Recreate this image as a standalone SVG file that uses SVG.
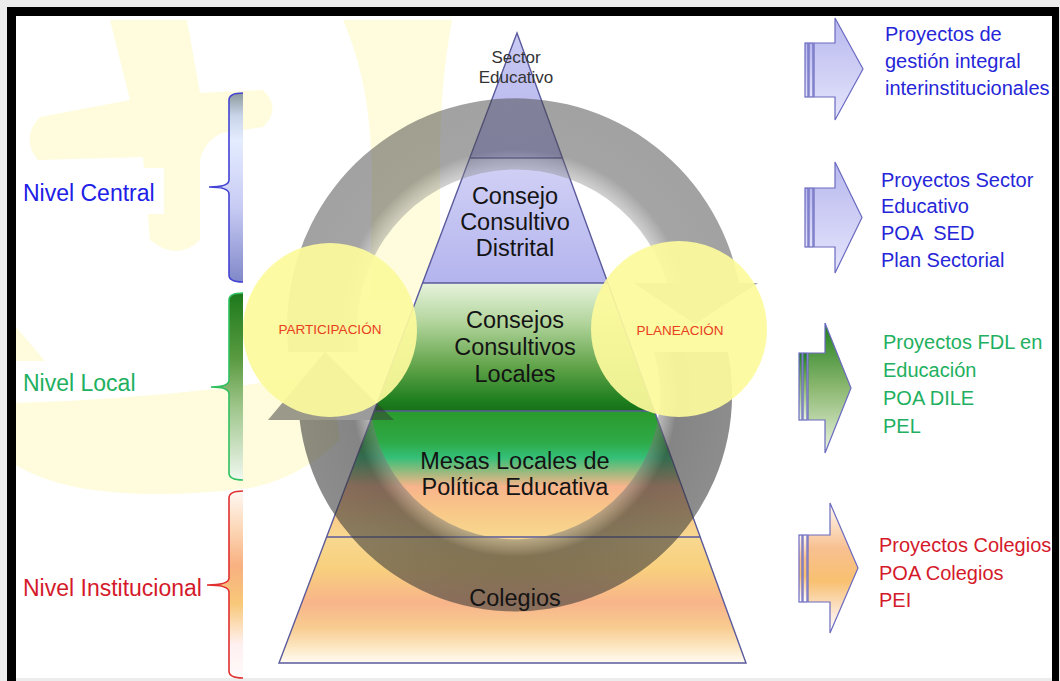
<svg xmlns="http://www.w3.org/2000/svg" width="1060" height="681" viewBox="0 0 1060 681">
<defs>
<style>
.t{font-family:"Liberation Sans",Arial,sans-serif}
.pt{font-size:23.5px;fill:#141414;text-anchor:middle}
.lv{font-size:23px}
.rt{font-size:20px}
.ct{font-size:13.5px;fill:#e8401c;text-anchor:middle}
.sep{stroke:#5a5a9c;stroke-width:1.4;fill:none}
.wm{fill:#fefcdc}
.arr{stroke:#6a6ac0;stroke-width:1.2}
.br{fill:none;stroke-width:1.6}
.circ{fill:#fcfa9c;opacity:0.93}
</style>
<linearGradient id="g1" x1="0" y1="0" x2="0" y2="1"><stop offset="0" stop-color="#cacaf4"/><stop offset="1" stop-color="#b2b2ec"/></linearGradient>
<linearGradient id="g2" x1="0" y1="0" x2="0" y2="1"><stop offset="0" stop-color="#d2d2f6"/><stop offset="1" stop-color="#b4b4ee"/></linearGradient>
<linearGradient id="g3" x1="0" y1="0" x2="0" y2="1"><stop offset="0" stop-color="#e6f3dc"/><stop offset="0.3" stop-color="#b4d69e"/><stop offset="0.65" stop-color="#62a44a"/><stop offset="0.92" stop-color="#1e7e1e"/><stop offset="1" stop-color="#187018"/></linearGradient>
<linearGradient id="g4" x1="0" y1="0" x2="0" y2="1"><stop offset="0" stop-color="#2a9a2c"/><stop offset="0.25" stop-color="#2eaa48"/><stop offset="0.37" stop-color="#34c078"/><stop offset="0.52" stop-color="#b8b880"/><stop offset="0.6" stop-color="#f8b48c"/><stop offset="0.8" stop-color="#f8c888"/><stop offset="1" stop-color="#f8d890"/></linearGradient>
<linearGradient id="g5" x1="0" y1="0" x2="0" y2="1"><stop offset="0" stop-color="#f8d890"/><stop offset="0.25" stop-color="#f8d07e"/><stop offset="0.52" stop-color="#f8b48a"/><stop offset="0.72" stop-color="#f8cc90"/><stop offset="0.88" stop-color="#fce8c4"/><stop offset="1" stop-color="#fffcf4"/></linearGradient>
<radialGradient id="ringTop" gradientUnits="userSpaceOnUse" cx="515" cy="325" r="228"><stop offset="0.69" stop-color="#8a8a8a" stop-opacity="0.42"/><stop offset="0.77" stop-color="#4a4a4a" stop-opacity="0.5"/><stop offset="1" stop-color="#444444" stop-opacity="0.5"/></radialGradient>
<radialGradient id="ringBot" gradientUnits="userSpaceOnUse" cx="515" cy="394" r="217"><stop offset="0.668" stop-color="#7a7a7a" stop-opacity="0.5"/><stop offset="0.75" stop-color="#333333" stop-opacity="0.6"/><stop offset="1" stop-color="#3a3a3a" stop-opacity="0.58"/></radialGradient>
<linearGradient id="bBlue" x1="0" y1="0" x2="0" y2="1"><stop offset="0" stop-color="#8c9a9c"/><stop offset="0.12" stop-color="#c8d4e8"/><stop offset="0.25" stop-color="#e4ecff"/><stop offset="0.6" stop-color="#c8ccf4"/><stop offset="1" stop-color="#8088c8"/></linearGradient>
<linearGradient id="bGreen" x1="0" y1="0" x2="0" y2="1"><stop offset="0" stop-color="#1c7a1c"/><stop offset="0.35" stop-color="#5a9a40"/><stop offset="0.6" stop-color="#9cc488"/><stop offset="1" stop-color="#f0f8f0"/></linearGradient>
<linearGradient id="bRed" x1="0" y1="0" x2="0" y2="1"><stop offset="0" stop-color="#fff8f4"/><stop offset="0.2" stop-color="#fcd8b8"/><stop offset="0.4" stop-color="#f8b080"/><stop offset="0.6" stop-color="#f8c878"/><stop offset="0.82" stop-color="#fff0f0"/><stop offset="1" stop-color="#fffafa"/></linearGradient>
<linearGradient id="aBlue" x1="0" y1="0" x2="0" y2="1"><stop offset="0" stop-color="#b8b8ee"/><stop offset="1" stop-color="#e4e4fc"/></linearGradient>
<linearGradient id="aGreen" x1="0" y1="0" x2="0" y2="1"><stop offset="0" stop-color="#1e7e1e"/><stop offset="0.5" stop-color="#8cb870"/><stop offset="1" stop-color="#eaf4e2"/></linearGradient>
<linearGradient id="aOrange" x1="0" y1="0" x2="0" y2="1"><stop offset="0" stop-color="#fffaf4"/><stop offset="0.35" stop-color="#f8c090"/><stop offset="0.6" stop-color="#f8c070"/><stop offset="0.85" stop-color="#fce8d8"/><stop offset="1" stop-color="#ffffff"/></linearGradient>
</defs>

<g id="frame">
<rect x="0" y="0" width="1060" height="681" fill="#ececec"/>
<rect x="16" y="16" width="1036" height="662" fill="#ffffff"/>
<rect x="7" y="7" width="1052" height="9" fill="#000"/>
<rect x="7" y="7" width="9" height="674" fill="#000"/>
<rect x="1052" y="7" width="7" height="674" fill="#000"/>
</g>

<g id="watermark">
<path class="wm" d="M110,20 L187,20 L200,93 L263,90 Q282,108 263,127 L222,133 Q205,140 200,160 L200,240 Q177,262 150,240 L143,157 L38,160 Q20,138 40,117 L130,100 Z"/>
<path class="wm" d="M343,20 L452,20 C445,60 440,100 440,170 L440,300 L370,300 L372,170 C370,100 360,60 343,20 Z"/>
<path class="wm" d="M16,327 L45,361 L16,361 Z"/>
<path class="wm" d="M16,403 Q120,400 233,387 L330,372 L340,440 Q300,478 250,488 Q150,500 80,488 Q40,480 16,465 Z"/>
<rect x="16" y="168" width="148" height="46" fill="#ffffff"/>
</g>

<g id="pyramid">
<g id="layer-sector"><polygon points="517,33 562.4,158 469.8,158" fill="url(#g1)"/></g>
<g id="layer-distrital"><polygon points="469.8,158 562.4,158 607.9,283 422.6,283" fill="url(#g2)"/></g>
<g id="layer-locales"><polygon points="422.6,283 607.9,283 654.4,411 374.2,411" fill="url(#g3)"/></g>
<g id="layer-mesas"><polygon points="374.2,411 654.4,411 700.2,537 326.6,537" fill="url(#g4)"/></g>
<g id="layer-colegios"><polygon points="326.6,537 700.2,537 746,663 279,663" fill="url(#g5)"/></g>
<polygon class="sep" points="517,33 746,663 279,663"/>
<line class="sep" x1="469.8" y1="158" x2="562.4" y2="158"/>
<line class="sep" x1="422.6" y1="283" x2="607.9" y2="283"/>
<line class="sep" x1="374.2" y1="411" x2="654.4" y2="411"/>
<line class="sep" x1="326.6" y1="537" x2="700.2" y2="537"/>
</g>

<g id="connectors">
<path d="M288.6,352 A228,228 0 0 1 739,283 L667,283 A158,158 0 0 0 359.3,352 Z" fill="url(#ringTop)"/>
<polygon points="634,283 758,283 695,324" fill="#3c3c3c" fill-opacity="0.45"/>
<path d="M727.9,352 A217,217 0 1 1 299.6,420 L372.4,420 A145,145 0 1 0 653.8,352 Z" fill="url(#ringBot)"/>
<polygon points="268,420 394,420 325,352" fill="#383838" fill-opacity="0.5"/>
</g>

<g id="participacion"><circle class="circ" cx="330" cy="330" r="87"/><text class="t ct" x="330" y="334">PARTICIPACIÓN</text></g>
<g id="planeacion"><circle class="circ" cx="679" cy="329" r="88"/><text class="t ct" x="680" y="335">PLANEACIÓN</text></g>

<g id="pyramid-labels">
<text class="t" x="516" y="63" font-size="17" fill="#333" text-anchor="middle">Sector</text>
<text class="t" x="516" y="83" font-size="17" fill="#333" text-anchor="middle">Educativo</text>
<text class="t pt" x="515" y="204">Consejo</text>
<text class="t pt" x="515" y="230">Consultivo</text>
<text class="t pt" x="515" y="256">Distrital</text>
<text class="t pt" x="515" y="328">Consejos</text>
<text class="t pt" x="515" y="355">Consultivos</text>
<text class="t pt" x="515" y="382">Locales</text>
<text class="t pt" x="515" y="469" font-size="22.5">Mesas Locales de</text>
<text class="t pt" x="515" y="495" font-size="22.5">Política Educativa</text>
<text class="t pt" x="515" y="606">Colegios</text>
</g>

<g id="nivel-central">
<path d="M243,93 Q229,93 229,100 L229,180 Q229,187 209,187 Q229,187 229,194 L229,275 Q229,282 243,282 Z" fill="url(#bBlue)"/>
<path class="br" stroke="#4444d4" d="M243,93 Q229,93 229,100 L229,180 Q229,187 209,187 Q229,187 229,194 L229,275 Q229,282 243,282"/>
<text class="t lv" x="23" y="201" fill="#2020e6">Nivel Central</text>
</g>
<g id="nivel-local">
<path d="M243,293 Q229,293 229,300 L229,380 Q229,387 211,387 Q229,387 229,394 L229,473 Q229,480 243,480 Z" fill="url(#bGreen)"/>
<path class="br" stroke="#30c060" d="M243,293 Q229,293 229,300 L229,380 Q229,387 211,387 Q229,387 229,394 L229,473 Q229,480 243,480"/>
<text class="t lv" x="23" y="391" fill="#22b060">Nivel Local</text>
</g>
<g id="nivel-institucional">
<path d="M243,491 Q229,491 229,498 L229,578 Q229,585 207,585 Q229,585 229,592 L229,671 Q229,678 243,678 Z" fill="url(#bRed)"/>
<path class="br" stroke="#e03030" d="M243,491 Q229,491 229,498 L229,578 Q229,585 207,585 Q229,585 229,592 L229,671 Q229,678 243,678"/>
<text class="t lv" x="23" y="596" fill="#d41a2a">Nivel Institucional</text>
</g>

<g id="arrow-gestion">
<rect class="arr" x="805" y="43" width="3" height="54" fill="url(#aBlue)"/>
<rect class="arr" x="809" y="43" width="4" height="54" fill="url(#aBlue)"/>
<polygon class="arr" points="814,43 835,43 835,18 863,69 835,120 835,97 814,97" fill="url(#aBlue)"/>
<text class="t rt" fill="#2626d8"><tspan x="885" y="41">Proyectos de</tspan><tspan x="885" y="68">gestión integral</tspan><tspan x="885" y="95">interinstitucionales</tspan></text>
</g>
<g id="arrow-sector">
<rect class="arr" x="805" y="188" width="3" height="59" fill="url(#aBlue)"/>
<rect class="arr" x="809" y="188" width="4" height="59" fill="url(#aBlue)"/>
<polygon class="arr" points="814,188 835,188 835,162 862,217.5 835,273 835,247 814,247" fill="url(#aBlue)"/>
<text class="t rt" fill="#2626d8"><tspan x="881" y="187">Proyectos Sector</tspan><tspan x="881" y="213">Educativo</tspan><tspan x="881" y="240" xml:space="preserve">POA  SED</tspan><tspan x="881" y="267">Plan Sectorial</tspan></text>
</g>
<g id="arrow-fdl">
<rect class="arr" x="799" y="353" width="3" height="67" fill="url(#aGreen)"/>
<rect class="arr" x="803" y="353" width="4" height="67" fill="url(#aGreen)"/>
<polygon class="arr" points="808,353 825,353 825,323 851,388 825,453 825,420 808,420" fill="url(#aGreen)"/>
<text class="t rt" fill="#22b060"><tspan x="883" y="349">Proyectos FDL en</tspan><tspan x="883" y="377">Educación</tspan><tspan x="883" y="405">POA DILE</tspan><tspan x="883" y="433">PEL</tspan></text>
</g>
<g id="arrow-colegios">
<rect class="arr" x="799" y="535" width="3" height="67" fill="url(#aOrange)"/>
<rect class="arr" x="803" y="535" width="4" height="67" fill="url(#aOrange)"/>
<polygon class="arr" points="808,535 830,535 830,503 858,568 830,633 830,602 808,602" fill="url(#aOrange)"/>
<text class="t rt" fill="#d41a2a"><tspan x="879" y="552">Proyectos Colegios</tspan><tspan x="879" y="580">POA Colegios</tspan><tspan x="879" y="607">PEI</tspan></text>
</g>
</svg>
